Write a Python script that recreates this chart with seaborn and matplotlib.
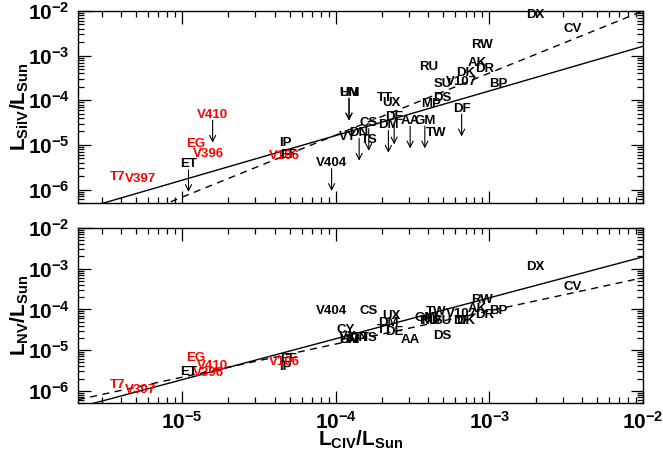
import numpy as np
import pandas as pd
import matplotlib
matplotlib.use("Agg")
import matplotlib.pyplot as plt
from matplotlib.transforms import offset_copy
from matplotlib.ticker import LogLocator, NullFormatter, LogFormatterMathtext
import seaborn as sns

# ---- line luminosities (units of L_sun) ----
names = ["T7", "V397", "ET", "EG", "V396", "V410", "IP", "EF", "V106", "V404",
         "HM", "UN", "CY", "VY", "DN", "TS", "CS", "TT", "UX", "DE", "DM",
         "AA", "GM", "MP", "TW", "RU", "DS", "SU", "V107", "DF", "DK", "AK",
         "DR", "RW", "BP", "DX", "CV"]
colors = ["red", "red", "black", "red", "red", "red", "black", "black", "red", "black",
          "black", "black", "black", "black", "black", "black", "black", "black", "black", "black", "black",
          "black", "black", "black", "black", "black", "black", "black", "black", "black", "black", "black",
          "black", "black", "black", "black", "black"]
l_civ = [3.8e-6, 5.4e-6, 1.1e-5, 1.23e-5, 1.48e-5, 1.58e-5, 4.7e-5, 4.9e-5, 4.6e-5, 9.4e-5,
         1.22e-4, 1.22e-4, 1.16e-4, 1.2e-4, 1.42e-4, 1.64e-4, 1.64e-4, 2.1e-4, 2.3e-4, 2.4e-4, 2.2e-4,
         3.05e-4, 3.8e-4, 4.2e-4, 4.5e-4, 4.0e-4, 4.9e-4, 5.0e-4, 6.6e-4, 6.6e-4, 7.0e-4, 8.3e-4,
         9.3e-4, 8.9e-4, 1.15e-3, 2.0e-3, 3.5e-3]
l_siiv = [1.9e-6, 1.7e-6, 3.7e-6, 1.05e-5, 6.2e-6, 4.7e-5, 1.1e-5, 6.0e-6, 5.6e-6, 3.9e-6,
          1.48e-4, 1.48e-4, np.nan, 1.5e-5, 1.86e-5, 1.3e-5, 3.1e-5, 1.1e-4, 8.8e-5, 4.3e-5, 2.8e-5,
          3.5e-5, 3.5e-5, 8.3e-5, 1.86e-5, 5.5e-4, 1.1e-4, 2.35e-4, 2.6e-4, 6.5e-5, 4.0e-4, 6.8e-4,
          5.1e-4, 1.7e-3, 2.35e-4, 8.1e-3, 3.9e-3]
siiv_upper = [False, False, True, False, False, True, False, False, False, True,
              True, True, False, False, True, False, True, False, False, True, True,
              True, True, False, False, False, False, False, False, True, False, False,
              False, False, False, False, False]
l_nv = [1.4e-6, 1.05e-6, 2.9e-6, 6.3e-6, 2.75e-6, 4.1e-6, 3.9e-6, 6.0e-6, 5.1e-6, 8.9e-5,
        1.74e-5, 1.74e-5, 3.2e-5, 2.1e-5, 2.0e-5, 2.0e-5, 8.9e-5, 3.2e-5, 6.8e-5, 2.75e-5, 4.6e-5,
        1.74e-5, 6.0e-5, 5.1e-5, 8.5e-5, 5.1e-5, 2.2e-5, 5.1e-5, 7.6e-5, 5.1e-5, 5.1e-5, 1.0e-4,
        7.1e-5, 1.74e-4, 8.9e-5, 1.12e-3, 3.5e-4]

# power-law fits: (slope, value at L_CIV = 1e-2)
siiv_fit_solid = (1.00, 1.62e-3)
siiv_fit_dashed = (1.39, 1.0e-2)
nv_fit_solid = (1.006, 1.95e-3)
nv_fit_dashed = (0.815, 6.0e-4)

xlim = (2.1e-6, 1e-2)
ylim = (5e-7, 1e-2)

sns.set_theme(style="ticks")
plt.rcParams["font.family"] = ["Liberation Sans", "DejaVu Sans"]
plt.rcParams["font.weight"] = "bold"
plt.rcParams["mathtext.fontset"] = "custom"
plt.rcParams["mathtext.rm"] = "Liberation Sans:bold"
plt.rcParams["mathtext.it"] = "Liberation Sans:bold"
plt.rcParams["mathtext.bf"] = "Liberation Sans:bold"
plt.rcParams["mathtext.sf"] = "Liberation Sans:bold"
plt.rcParams["axes.linewidth"] = 1.0
for key in ("text.color", "axes.labelcolor", "xtick.color", "ytick.color",
            "xtick.labelcolor", "ytick.labelcolor", "axes.edgecolor"):
    plt.rcParams[key] = "black"

fig = plt.figure(figsize=(6.63, 4.57), dpi=100)
W, H = 663, 457
ax_top = fig.add_axes([78 / W, 1 - 203 / H, 565 / W, 192 / H])
ax_bot = fig.add_axes([78 / W, 1 - 403 / H, 565 / W, 175 / H])

df = pd.DataFrame({"name": names, "color": colors, "civ": l_civ,
                   "siiv": l_siiv, "siiv_ul": siiv_upper, "nv": l_nv})

xfit = np.logspace(np.log10(xlim[0]), np.log10(xlim[1]), 200)


def fit_frame(params):
    slope, y_at = params
    return pd.DataFrame({"x": xfit, "y": y_at * (xfit / 1e-2) ** slope})


def style_axes(ax, show_xlabels):
    ax.set_xscale("log")
    ax.set_yscale("log")
    ax.set_xlim(*xlim)
    ax.set_ylim(*ylim)
    ax.xaxis.set_major_locator(LogLocator(base=10, numticks=10))
    ax.xaxis.set_minor_locator(LogLocator(base=10, subs=np.arange(2, 10), numticks=20))
    ax.yaxis.set_major_locator(LogLocator(base=10, numticks=10))
    ax.yaxis.set_minor_locator(LogLocator(base=10, subs=np.arange(2, 10), numticks=20))
    ax.yaxis.set_minor_formatter(NullFormatter())
    ax.xaxis.set_minor_formatter(NullFormatter())
    ax.yaxis.set_major_formatter(LogFormatterMathtext())
    if show_xlabels:
        ax.xaxis.set_major_formatter(LogFormatterMathtext())
    else:
        ax.xaxis.set_major_formatter(NullFormatter())
    ax.tick_params(which="both", direction="in", top=True, right=True,
                   color="black", labelcolor="black", width=0.9, labelsize=15, pad=6)
    ax.tick_params(which="major", length=9)
    ax.tick_params(which="minor", length=4.5)
    for s in ax.spines.values():
        s.set_color("black")
        s.set_visible(True)


def draw_panel(ax, ycol, fits, arrows):
    sns.lineplot(data=fit_frame(fits[0]), x="x", y="y", ax=ax, color="black",
                 lw=1.0, estimator=None, sort=False)
    sns.lineplot(data=fit_frame(fits[1]), x="x", y="y", ax=ax, color="black",
                 lw=1.0, estimator=None, sort=False, linestyle=(0, (5, 4)))
    tail = offset_copy(ax.transData, fig=fig, x=0, y=-4, units="points")
    head = offset_copy(ax.transData, fig=fig, x=0, y=-20, units="points")
    for _, r in df.iterrows():
        if np.isnan(r[ycol]):
            continue
        ax.text(r["civ"], r[ycol], r["name"], color=r["color"], fontsize=9.5,
                fontweight="bold", ha="center", va="center", zorder=3)
        if arrows and r["siiv_ul"]:
            ax.annotate("", xy=(r["civ"], r[ycol]), xycoords=head,
                        xytext=(r["civ"], r[ycol]), textcoords=tail,
                        arrowprops=dict(arrowstyle="->", color="black", lw=0.8,
                                        shrinkA=0, shrinkB=0, mutation_scale=11))
    ax.set_xlabel("")
    ax.set_ylabel("")


style_axes(ax_top, False)
style_axes(ax_bot, True)
draw_panel(ax_top, "siiv", (siiv_fit_solid, siiv_fit_dashed), True)
draw_panel(ax_bot, "nv", (nv_fit_solid, nv_fit_dashed), False)
style_axes(ax_top, False)
style_axes(ax_bot, True)

ax_top.set_ylabel(r"$\mathbf{L_{SiIV}/L_{Sun}}$", fontsize=15, va="center", color="black")
ax_bot.set_ylabel(r"$\mathbf{L_{NV}/L_{Sun}}$", fontsize=15, va="center", color="black")
ax_bot.set_xlabel(r"$\mathbf{L_{CIV}/L_{Sun}}$", fontsize=15, va="center", color="black")
ax_top.yaxis.set_label_coords((20 - 78) / 565, 0.5)
ax_bot.yaxis.set_label_coords((20 - 78) / 565, 0.5)
ax_bot.xaxis.set_label_coords(0.5, (403 - 440) / 175)

fig.savefig("out.png", dpi=100)
